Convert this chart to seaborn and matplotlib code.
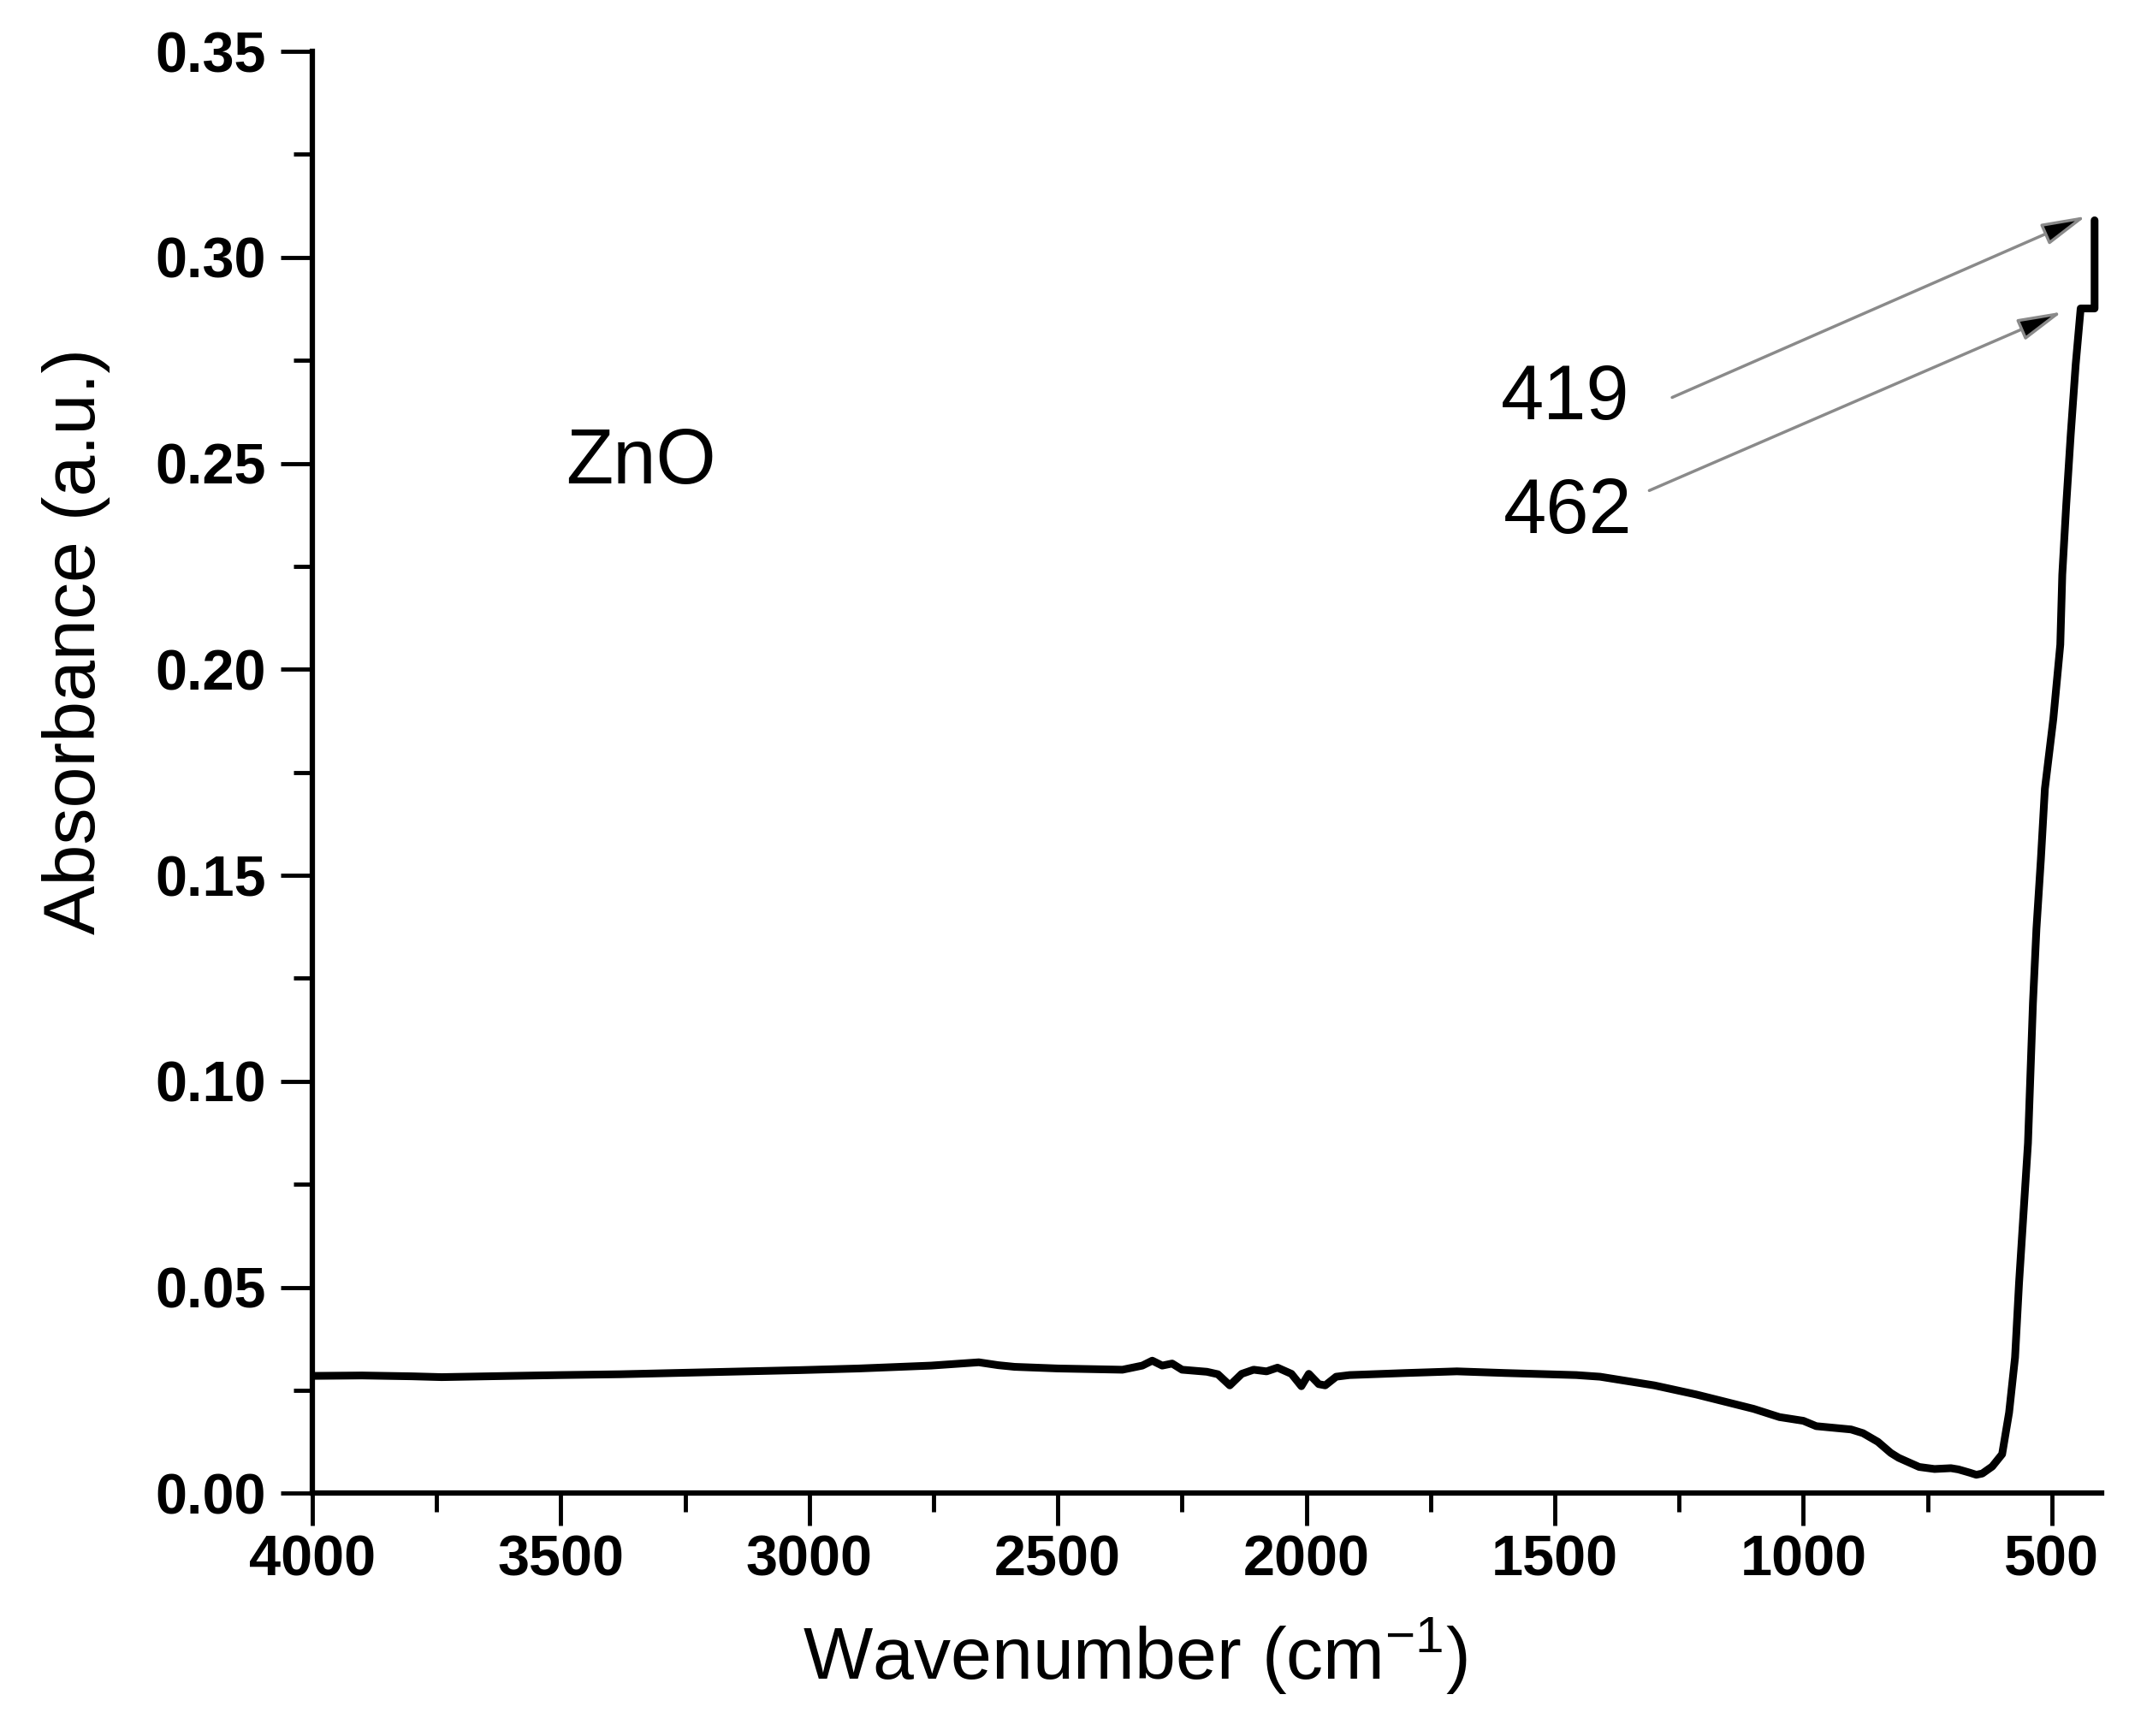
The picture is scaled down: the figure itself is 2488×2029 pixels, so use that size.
import matplotlib
matplotlib.use('Agg')
import matplotlib.pyplot as plt
from matplotlib.ticker import MultipleLocator, FormatStrFormatter
import pandas as pd
import seaborn as sns

# FTIR spectrum of ZnO
wavenumber = [4000, 3900, 3800, 3740, 3600, 3500, 3380, 3200, 3019, 2900,
              2755, 2659, 2620, 2587, 2500, 2370, 2330, 2310, 2290, 2270,
              2250, 2200, 2178, 2154, 2130, 2106, 2080, 2058, 2030, 2010,
              1995, 1975, 1962, 1940, 1913, 1800, 1697, 1600, 1457, 1409,
              1300, 1216, 1100, 1048, 1000, 974, 904, 880, 850, 824,
              808, 767, 736, 703, 688, 665, 652, 640, 620, 600,
              586, 574, 566, 557, 548, 543, 538, 531, 522, 514,
              497, 483, 479, 471, 462, 452, 442, 414, 414]
absorbance = [0.0285, 0.0286, 0.0284, 0.0282, 0.0285, 0.0287, 0.0289, 0.0294, 0.0299, 0.0303,
              0.0310, 0.0318, 0.0311, 0.0307, 0.0303, 0.0300, 0.0310, 0.0322, 0.0310, 0.0315,
              0.0300, 0.0295, 0.0289, 0.0262, 0.0290, 0.0300, 0.0296, 0.0305, 0.0290, 0.0260,
              0.0290, 0.0265, 0.0262, 0.0283, 0.0287, 0.0292, 0.0296, 0.0292, 0.0287, 0.0283,
              0.0262, 0.0240, 0.0205, 0.0185, 0.0176, 0.0163, 0.0155, 0.0146, 0.0125, 0.0098,
              0.0086, 0.0064, 0.0059, 0.0061, 0.0058, 0.0050, 0.0045, 0.0048, 0.0065, 0.0095,
              0.0196, 0.033, 0.051, 0.068, 0.085, 0.102, 0.119, 0.137, 0.154, 0.171,
              0.188, 0.206, 0.223, 0.240, 0.257, 0.274, 0.2876, 0.2876, 0.309]

peak_labels = ['419', '462']
peak_tips = [(431, 0.310), (479, 0.2868)]
label_pos = [(1479, 0.2655), (1474, 0.238)]
arrow_tails = [(1264, 0.266), (1310, 0.2434)]

spectrum = pd.DataFrame({'wavenumber': wavenumber, 'absorbance': absorbance})

sns.set_style('ticks')
plt.rcParams['font.family'] = ['Liberation Sans', 'DejaVu Sans']
plt.rcParams['mathtext.default'] = 'regular'
plt.rcParams['text.color'] = 'black'
plt.rcParams['axes.labelcolor'] = 'black'

fig = plt.figure(figsize=(24.88, 20.29), dpi=100)
ax = fig.add_axes([0.1467, 0.1398, 0.8404, 0.8306])

sns.lineplot(data=spectrum, x='wavenumber', y='absorbance', sort=False,
             estimator=None, color='black', linewidth=6.5, ax=ax)

ax.set_xlim(4000, 400)
ax.set_ylim(0, 0.35)
ax.xaxis.set_major_locator(MultipleLocator(500))
ax.xaxis.set_minor_locator(MultipleLocator(250))
ax.yaxis.set_major_locator(MultipleLocator(0.05))
ax.yaxis.set_minor_locator(MultipleLocator(0.025))
ax.yaxis.set_major_formatter(FormatStrFormatter('%.2f'))

sns.despine(ax=ax)
for side in ['left', 'bottom']:
    ax.spines[side].set_linewidth(4.5)
    ax.spines[side].set_color('black')

ax.tick_params(which='major', direction='out', length=27, width=3.5, colors='black')
ax.tick_params(which='minor', direction='out', length=16, width=3.5, colors='black')
ax.tick_params(axis='x', which='major', pad=8)
ax.tick_params(axis='y', which='major', pad=12)
for lab in ax.get_xticklabels() + ax.get_yticklabels():
    lab.set_fontsize(48)
    lab.set_fontweight('bold')

ax.set_xlabel('Wavenumber (cm$^{-1}$)', fontsize=62)
ax.set_ylabel('Absorbance (a.u.)', fontsize=62)
ax.xaxis.set_label_coords(0.46, -0.085)
ax.yaxis.set_label_coords(-0.113, 0.591)

ax.text(3338, 0.250, 'ZnO', fontsize=65, ha='center', va='center')

for lab, tip, pos, tail in zip(peak_labels, peak_tips, label_pos, arrow_tails):
    ax.text(pos[0], pos[1], lab, fontsize=65, ha='center', va='center')
    ax.annotate('', xy=tip, xytext=tail,
                arrowprops=dict(arrowstyle='-|>,head_length=0.8,head_width=0.2',
                                mutation_scale=40, edgecolor='#8a8a8a',
                                facecolor='black', linewidth=2.5,
                                shrinkA=0, shrinkB=0))

fig.savefig('out.png', dpi=100, facecolor='white')
